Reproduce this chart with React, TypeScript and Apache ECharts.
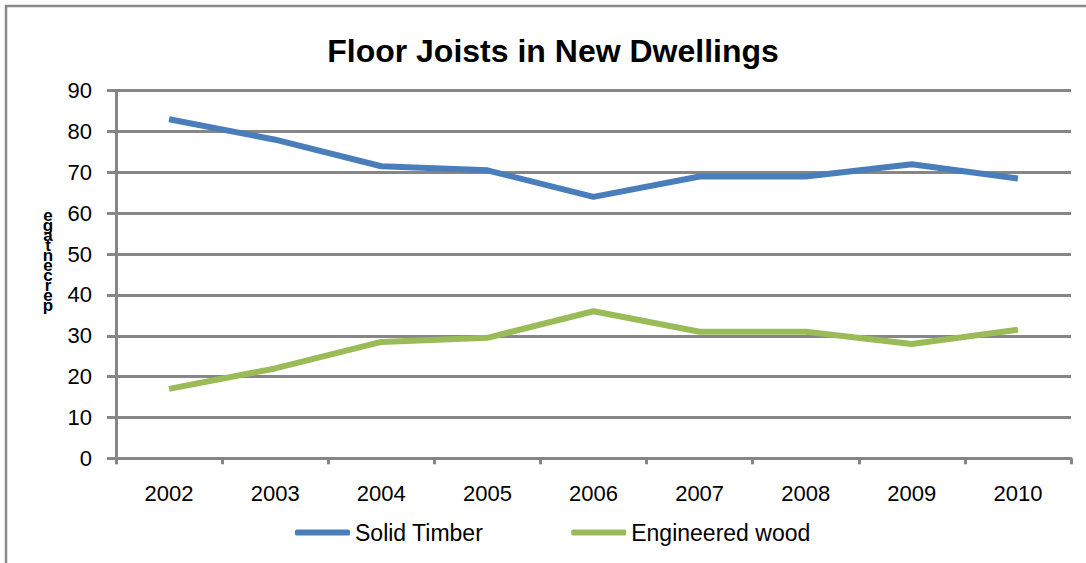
import React, { useEffect, useRef } from "react";
import * as echarts from "echarts";

const years = ["2002", "2003", "2004", "2005", "2006", "2007", "2008", "2009", "2010"];
const solidTimber = [83, 78, 71.5, 70.5, 64, 69, 69, 72, 68.5];
const engineeredWood = [17, 22, 28.5, 29.5, 36, 31, 31, 28, 31.5];
const seriesNames = ["Solid Timber", "Engineered wood"];
const titleText = "Floor Joists in New Dwellings";
const yAxisName = "percentage";

const FONT = "'Liberation Sans', Arial, sans-serif";
const GRID = "#868686";

export default function App() {
  const ref = useRef<HTMLDivElement>(null);
  useEffect(() => {
    if (!ref.current) return;
    const chart = echarts.init(ref.current, undefined, { renderer: "svg" });
    const stacked = yAxisName.split("").reverse().join("\n");
    chart.setOption({
      animation: false,
      backgroundColor: "#ffffff",
      title: {
        text: titleText,
        left: 548,
        textAlign: "center",
        top: 30,
        textStyle: { fontFamily: FONT, fontWeight: "bold", fontSize: 32, color: "#000" },
      },
      graphic: [
        {
          type: "rect",
          shape: { x: 6, y: 6, width: 1200, height: 700 },
          style: { fill: "none", stroke: "#8a8a8a", lineWidth: 2.5 },
          silent: true,
        },
        {
          type: "text",
          x: 48,
          y: 210,
          style: {
            text: stacked,
            fontFamily: FONT,
            fontWeight: "bold",
            fontSize: 17,
            lineHeight: 10,
            fill: "#000",
            align: "center",
          },
        },
      ],
      legend: {
        left: 290,
        top: 516,
        itemWidth: 55,
        itemHeight: 6,
        itemGap: 88,
        icon: "roundRect",
        textStyle: { fontFamily: FONT, fontSize: 23, color: "#000", padding: [0, 0, 0, 0] },
        data: seriesNames,
      },
      grid: { left: 116, right: 15, top: 90.7, bottom: 104.7, containLabel: false },
      xAxis: {
        type: "category",
        data: years,
        boundaryGap: true,
        axisLine: { show: true, lineStyle: { color: GRID, width: 3 } },
        axisTick: { show: true, length: 6, lineStyle: { color: GRID, width: 3 }, alignWithLabel: false },
        axisLabel: { fontFamily: FONT, fontSize: 22, color: "#000", margin: 24 },
        splitLine: { show: false },
      },
      yAxis: {
        type: "value",
        min: 0,
        max: 90,
        interval: 10,
        axisLine: { show: true, lineStyle: { color: GRID, width: 3 } },
        axisTick: { show: true, length: 9, lineStyle: { color: GRID, width: 3 } },
        axisLabel: { fontFamily: FONT, fontSize: 22, color: "#000", margin: 24 },
        splitLine: { show: true, lineStyle: { color: GRID, width: 3 } },
      },
      series: [
        {
          name: seriesNames[0],
          type: "line",
          data: solidTimber,
          showSymbol: false,
          symbol: "none",
          lineStyle: { color: "#4A7EBB", width: 6 },
          itemStyle: { color: "#4A7EBB" },
        },
        {
          name: seriesNames[1],
          type: "line",
          data: engineeredWood,
          showSymbol: false,
          symbol: "none",
          lineStyle: { color: "#9BBB59", width: 6 },
          itemStyle: { color: "#9BBB59" },
        },
      ],
    });
    return () => chart.dispose();
  }, []);
  return (
    <div
      ref={ref}
      style={{ position: "fixed", left: 0, top: 0, width: 1086, height: 563, overflow: "hidden" }}
    />
  );
}
